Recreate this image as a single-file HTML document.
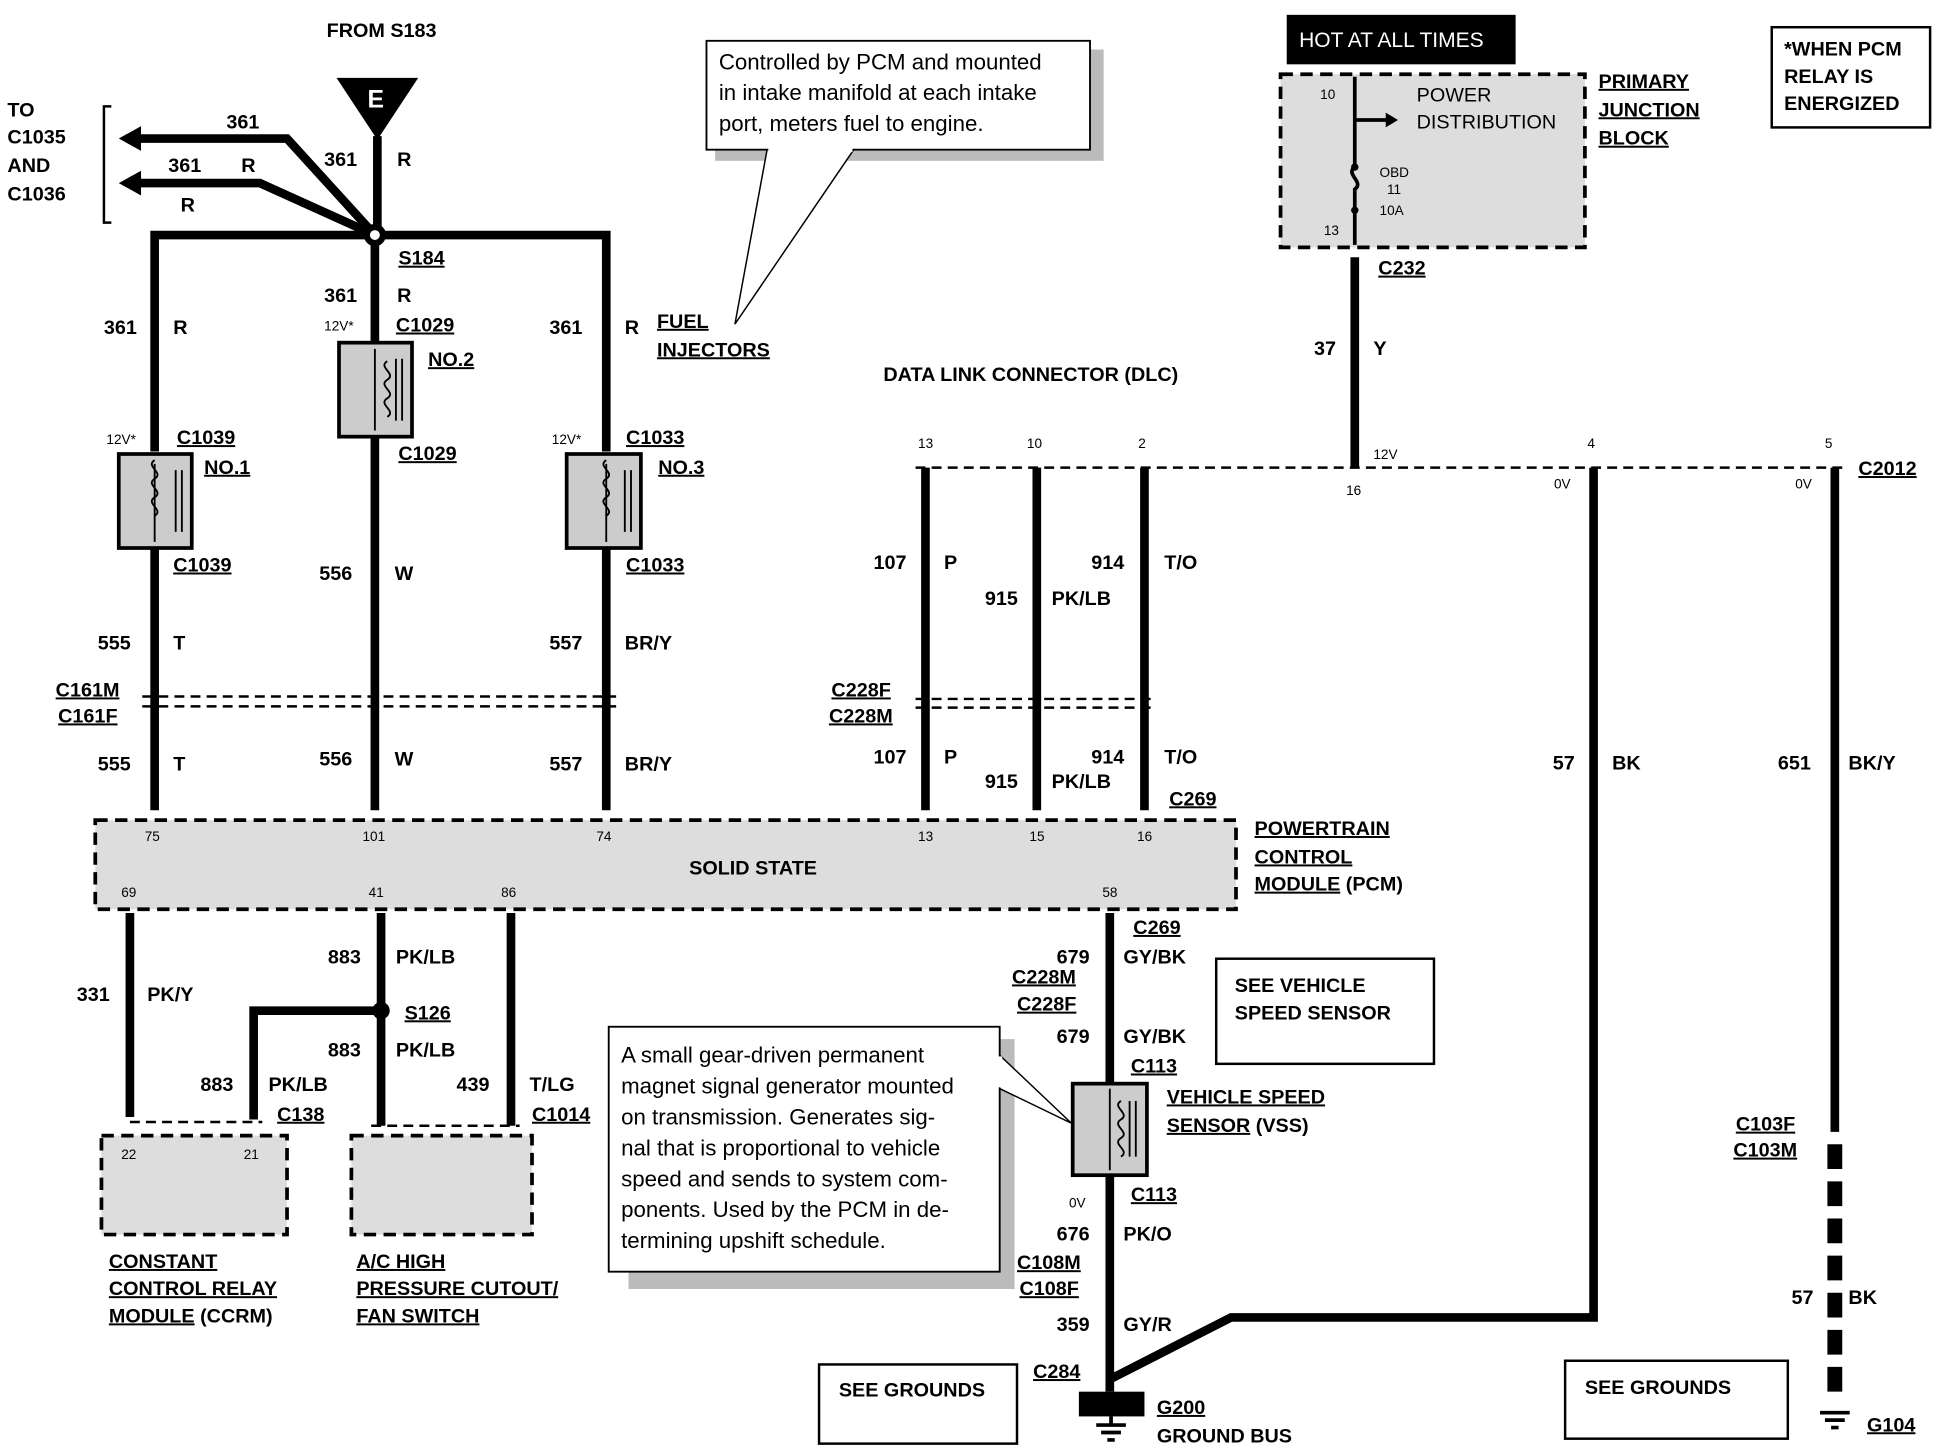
<!DOCTYPE html>
<html><head><meta charset="utf-8"><style>
html,body{margin:0;padding:0;background:#fff}
svg{display:block}
text{font-family:"Liberation Sans",Arial,sans-serif;font-weight:bold;fill:#000}
.s{font-size:16px}.t{font-size:11px;font-weight:normal}.n{font-size:18px;font-weight:normal}
.w{stroke:#000;stroke-width:7;fill:none}
.d{stroke:#000;stroke-width:3;fill:none;stroke-dasharray:10 6}
.dl{stroke:#000;stroke-width:2;fill:none;stroke-dasharray:8 5}
.bx{fill:#ddd;stroke:#000;stroke-width:3;stroke-dasharray:10 6}
.cp{fill:#ccc;stroke:#000;stroke-width:3}
.cl{stroke:#000;stroke-width:1.5;fill:none}
</style></head><body>
<svg width="1940" height="1456" viewBox="0 0 1568 1177" preserveAspectRatio="none" xmlns="http://www.w3.org/2000/svg">
<rect width="1568" height="1177" fill="#fff"/>
<text x="264" y="30" class="s">FROM S183</text>
<polygon points="272,63 338,63 305,113" fill="#000"/>
<text x="297" y="87" class="s" style="fill:#fff;font-size:20px">E</text>
<text x="6" y="94" class="s">TO</text><text x="6" y="116" class="s">C1035</text><text x="6" y="139" class="s">AND</text><text x="6" y="162" class="s">C1036</text>
<path d="M90,86 H84 V180 H90" stroke="#000" stroke-width="2" fill="none"/>
<path class="w" d="M305,110 V190 M303,190 L232,112 H110 M303,190 L210,148 H110"/>
<polygon points="96,112 114,102 114,122" fill="#000"/><polygon points="96,148 114,138 114,158" fill="#000"/>
<text x="183" y="104" class="s">361</text><text x="136" y="139" class="s">361</text><text x="195" y="139" class="s">R</text><text x="146" y="171" class="s">R</text>
<text x="262" y="134" class="s">361</text><text x="321" y="134" class="s">R</text>
<path class="w" d="M125,365 V190 H490 V365 M303,190 V277 M303,353 V655 M125,443 V655 M490,443 V655"/>
<circle cx="303" cy="190" r="9" fill="#000"/><circle cx="303" cy="190" r="4" fill="#fff"/>
<text x="322" y="214" class="s" text-decoration="underline">S184</text>
<text x="262" y="244" class="s">361</text><text x="321" y="244" class="s">R</text>
<text x="84" y="270" class="s">361</text><text x="140" y="270" class="s">R</text>
<text x="444" y="270" class="s">361</text><text x="505" y="270" class="s">R</text>
<text x="531" y="265" class="s" text-decoration="underline">FUEL</text><text x="531" y="288" class="s" text-decoration="underline">INJECTORS</text>
<text x="262" y="267" class="t">12V*</text><text x="320" y="268" class="s" text-decoration="underline">C1029</text>
<rect x="274" y="277" width="59" height="76" class="cp"/><text x="346" y="296" class="s" text-decoration="underline">NO.2</text>
<path class="cl" d="M303,282 V348 M320,290 V340 M325,290 V340 M313,292 c-8,5 8,10 0,15 c-8,5 8,10 0,15 c-8,5 8,10 0,15"/>
<text x="322" y="372" class="s" text-decoration="underline">C1029</text>
<text x="86" y="359" class="t">12V*</text><text x="143" y="359" class="s" text-decoration="underline">C1039</text>
<rect x="96" y="367" width="59" height="76" class="cp"/><text x="165" y="383" class="s" text-decoration="underline">NO.1</text>
<path class="cl" d="M142,380 V430 M147,380 V430 M125,372 c-8,5 8,10 0,15 c-8,5 8,10 0,15 c-8,5 8,10 0,15 M125,375 V438"/>
<text x="446" y="359" class="t">12V*</text><text x="506" y="359" class="s" text-decoration="underline">C1033</text>
<rect x="458" y="367" width="60" height="76" class="cp"/><text x="532" y="383" class="s" text-decoration="underline">NO.3</text>
<path class="cl" d="M505,380 V430 M510,380 V430 M490,372 c-8,5 8,10 0,15 c-8,5 8,10 0,15 c-8,5 8,10 0,15 M490,375 V438"/>
<text x="140" y="462" class="s" text-decoration="underline">C1039</text><text x="506" y="462" class="s" text-decoration="underline">C1033</text>
<text x="258" y="469" class="s">556</text><text x="319" y="469" class="s">W</text>
<text x="79" y="525" class="s">555</text><text x="140" y="525" class="s">T</text>
<text x="444" y="525" class="s">557</text><text x="505" y="525" class="s">BR/Y</text>
<text x="45" y="563" class="s" text-decoration="underline">C161M</text><text x="47" y="584" class="s" text-decoration="underline">C161F</text>
<path class="dl" d="M115,563 H498 M115,571 H498"/>
<text x="79" y="623" class="s">555</text><text x="140" y="623" class="s">T</text>
<text x="258" y="619" class="s">556</text><text x="319" y="619" class="s">W</text>
<text x="444" y="623" class="s">557</text><text x="505" y="623" class="s">BR/Y</text>
<rect x="578" y="40" width="314" height="90" fill="#bbb"/>
<rect x="571" y="33" width="310" height="88" fill="#fff" stroke="#000" stroke-width="1.5"/>
<polygon points="620,121 690,121 594,262" fill="#fff" stroke="#000" stroke-width="1.2"/>
<rect x="621" y="119" width="68" height="4" fill="#fff"/>
<text x="581" y="56" class="n">Controlled by PCM and mounted</text>
<text x="581" y="81" class="n">in intake manifold at each intake</text>
<text x="581" y="106" class="n">port, meters fuel to engine.</text>
<text x="714" y="308" class="s">DATA LINK CONNECTOR (DLC)</text>
<path class="dl" d="M740,378 H1490"/>
<text x="742" y="362" class="t">13</text><text x="830" y="362" class="t">10</text><text x="920" y="362" class="t">2</text>
<text x="1283" y="362" class="t">4</text><text x="1475" y="362" class="t">5</text>
<text x="1110" y="371" class="t">12V</text><text x="1088" y="400" class="t">16</text>
<text x="1256" y="395" class="t">0V</text><text x="1451" y="395" class="t">0V</text>
<text x="1502" y="384" class="s" text-decoration="underline">C2012</text>
<path class="w" d="M748,378 V655 M838,378 V655 M925,378 V655 M1095,208 V378 M1288,378 V1065 H995 L897,1115 M1483,378 V915"/>
<path stroke="#000" stroke-width="12" fill="none" stroke-dasharray="20 10" d="M1483,925 V1135"/>
<path class="dl" d="M740,565 H932 M740,572 H932"/>
<text x="706" y="460" class="s">107</text><text x="763" y="460" class="s">P</text>
<text x="796" y="489" class="s">915</text><text x="850" y="489" class="s">PK/LB</text>
<text x="882" y="460" class="s">914</text><text x="941" y="460" class="s">T/O</text>
<text x="672" y="563" class="s" text-decoration="underline">C228F</text><text x="670" y="584" class="s" text-decoration="underline">C228M</text>
<text x="706" y="617" class="s">107</text><text x="763" y="617" class="s">P</text>
<text x="796" y="637" class="s">915</text><text x="850" y="637" class="s">PK/LB</text>
<text x="882" y="617" class="s">914</text><text x="941" y="617" class="s">T/O</text>
<text x="945" y="651" class="s" text-decoration="underline">C269</text>
<rect x="1040" y="12" width="185" height="40" fill="#000"/>
<text x="1050" y="38" class="s" style="fill:#fff;font-weight:normal;font-size:17px">HOT AT ALL TIMES</text>
<rect x="1035" y="60" width="246" height="140" class="bx"/>
<path stroke="#000" stroke-width="3" fill="none" d="M1095,62 V135 c-8,6 8,12 0,18 V198 M1095,97 H1122"/>
<polygon points="1130,97 1120,91 1120,103" fill="#000"/>
<circle cx="1095" cy="135" r="3" fill="#000"/><circle cx="1095" cy="170" r="3" fill="#000"/>
<text x="1145" y="82" class="s" style="font-weight:normal">POWER</text><text x="1145" y="104" class="s" style="font-weight:normal">DISTRIBUTION</text>
<text x="1067" y="80" class="t">10</text><text x="1070" y="190" class="t">13</text>
<text x="1115" y="143" class="t">OBD</text><text x="1121" y="157" class="t">11</text><text x="1115" y="174" class="t">10A</text>
<text x="1292" y="71" class="s" text-decoration="underline">PRIMARY</text><text x="1292" y="94" class="s" text-decoration="underline">JUNCTION</text><text x="1292" y="117" class="s" text-decoration="underline">BLOCK</text>
<text x="1114" y="222" class="s" text-decoration="underline">C232</text>
<text x="1062" y="287" class="s">37</text><text x="1110" y="287" class="s">Y</text>
<rect x="1432" y="22" width="128" height="81" fill="#fff" stroke="#000" stroke-width="2"/>
<text x="1442" y="45" class="s">*WHEN PCM</text><text x="1442" y="67" class="s">RELAY IS</text><text x="1442" y="89" class="s">ENERGIZED</text>
<text x="1255" y="622" class="s">57</text><text x="1303" y="622" class="s">BK</text>
<text x="1437" y="622" class="s">651</text><text x="1494" y="622" class="s">BK/Y</text>
<text x="1403" y="914" class="s" text-decoration="underline">C103F</text><text x="1401" y="935" class="s" text-decoration="underline">C103M</text>
<text x="1448" y="1054" class="s">57</text><text x="1494" y="1054" class="s">BK</text>
<path d="M1471,1142 H1495 M1475,1148 H1491 M1480,1154 H1486" stroke="#000" stroke-width="3"/>
<text x="1509" y="1157" class="s" text-decoration="underline">G104</text>
<rect x="1265" y="1100" width="180" height="63" fill="#fff" stroke="#000" stroke-width="2"/>
<text x="1281" y="1127" class="s">SEE GROUNDS</text>
<rect x="77" y="663" width="922" height="72" class="bx"/>
<text x="557" y="707" class="s">SOLID STATE</text>
<text x="117" y="680" class="t">75</text><text x="293" y="680" class="t">101</text><text x="482" y="680" class="t">74</text>
<text x="742" y="680" class="t">13</text><text x="832" y="680" class="t">15</text><text x="919" y="680" class="t">16</text>
<text x="98" y="725" class="t">69</text><text x="298" y="725" class="t">41</text><text x="405" y="725" class="t">86</text><text x="891" y="725" class="t">58</text>
<text x="1014" y="675" class="s" text-decoration="underline">POWERTRAIN</text><text x="1014" y="698" class="s" text-decoration="underline">CONTROL</text>
<text x="1014" y="720" class="s"><tspan text-decoration="underline">MODULE</tspan> (PCM)</text>
<path class="w" d="M105,738 V903 M308,738 V910 M413,738 V910 M308,817 H205 V905 M897,738 V876 M897,950 V1125"/>
<circle cx="308" cy="817" r="7" fill="#000"/>
<path class="dl" d="M105,907 H212 M300,910 H420"/>
<text x="62" y="809" class="s">331</text><text x="119" y="809" class="s">PK/Y</text>
<text x="265" y="779" class="s">883</text><text x="320" y="779" class="s">PK/LB</text>
<text x="327" y="824" class="s" text-decoration="underline">S126</text>
<text x="265" y="854" class="s">883</text><text x="320" y="854" class="s">PK/LB</text>
<text x="162" y="882" class="s">883</text><text x="217" y="882" class="s">PK/LB</text>
<text x="224" y="906" class="s" text-decoration="underline">C138</text>
<text x="369" y="882" class="s">439</text><text x="428" y="882" class="s">T/LG</text>
<text x="430" y="906" class="s" text-decoration="underline">C1014</text>
<rect x="82" y="918" width="150" height="80" class="bx"/><text x="98" y="937" class="t">22</text><text x="197" y="937" class="t">21</text>
<rect x="284" y="918" width="146" height="80" class="bx"/>
<text x="88" y="1025" class="s" text-decoration="underline">CONSTANT</text><text x="88" y="1047" class="s" text-decoration="underline">CONTROL RELAY</text>
<text x="88" y="1069" class="s"><tspan text-decoration="underline">MODULE</tspan> (CCRM)</text>
<text x="288" y="1025" class="s" text-decoration="underline">A/C HIGH</text><text x="288" y="1047" class="s" text-decoration="underline">PRESSURE CUTOUT/</text>
<text x="288" y="1069" class="s" text-decoration="underline">FAN SWITCH</text>
<text x="916" y="755" class="s" text-decoration="underline">C269</text>
<text x="854" y="779" class="s">679</text><text x="908" y="779" class="s">GY/BK</text>
<text x="818" y="795" class="s" text-decoration="underline">C228M</text><text x="822" y="817" class="s" text-decoration="underline">C228F</text>
<text x="854" y="843" class="s">679</text><text x="908" y="843" class="s">GY/BK</text>
<text x="914" y="867" class="s" text-decoration="underline">C113</text>
<rect x="867" y="876" width="60" height="74" class="cp"/>
<path class="cl" d="M897,880 V946 M913,890 V935 M918,890 V935 M906,890 c-8,5 8,10 0,15 c-8,5 8,10 0,15 c-8,5 8,10 0,15"/>
<text x="943" y="892" class="s" text-decoration="underline">VEHICLE SPEED</text>
<text x="943" y="915" class="s"><tspan text-decoration="underline">SENSOR</tspan> (VSS)</text>
<text x="864" y="976" class="t">0V</text><text x="914" y="971" class="s" text-decoration="underline">C113</text>
<text x="854" y="1003" class="s">676</text><text x="908" y="1003" class="s">PK/O</text>
<text x="822" y="1026" class="s" text-decoration="underline">C108M</text><text x="824" y="1047" class="s" text-decoration="underline">C108F</text>
<text x="854" y="1076" class="s">359</text><text x="908" y="1076" class="s">GY/R</text>
<text x="835" y="1114" class="s" text-decoration="underline">C284</text>
<rect x="872" y="1125" width="53" height="20" fill="#000"/>
<path d="M898,1145 V1152 M886,1152 H910 M890,1158 H906 M895,1164 H901" stroke="#000" stroke-width="3"/>
<text x="935" y="1143" class="s" text-decoration="underline">G200</text><text x="935" y="1166" class="s">GROUND BUS</text>
<rect x="983" y="775" width="176" height="85" fill="#fff" stroke="#000" stroke-width="2"/>
<text x="998" y="802" class="s">SEE VEHICLE</text><text x="998" y="824" class="s">SPEED SENSOR</text>
<rect x="662" y="1103" width="160" height="64" fill="#fff" stroke="#000" stroke-width="2"/>
<text x="678" y="1129" class="s">SEE GROUNDS</text>
<rect x="508" y="840" width="312" height="202" fill="#bbb"/>
<rect x="492" y="830" width="316" height="198" fill="#fff" stroke="#000" stroke-width="1.5"/>
<polygon points="808,853 808,880 866,908" fill="#fff" stroke="#000" stroke-width="1.2"/>
<rect x="806" y="854" width="4" height="25" fill="#fff"/>
<text x="502" y="859" class="n">A small gear-driven permanent</text>
<text x="502" y="884" class="n">magnet signal generator mounted</text>
<text x="502" y="909" class="n">on transmission.  Generates sig-</text>
<text x="502" y="934" class="n">nal that is proportional to vehicle</text>
<text x="502" y="959" class="n">speed and sends to system com-</text>
<text x="502" y="984" class="n">ponents. Used by the PCM in de-</text>
<text x="502" y="1009" class="n">termining upshift  schedule.</text>
</svg>
</body></html>
